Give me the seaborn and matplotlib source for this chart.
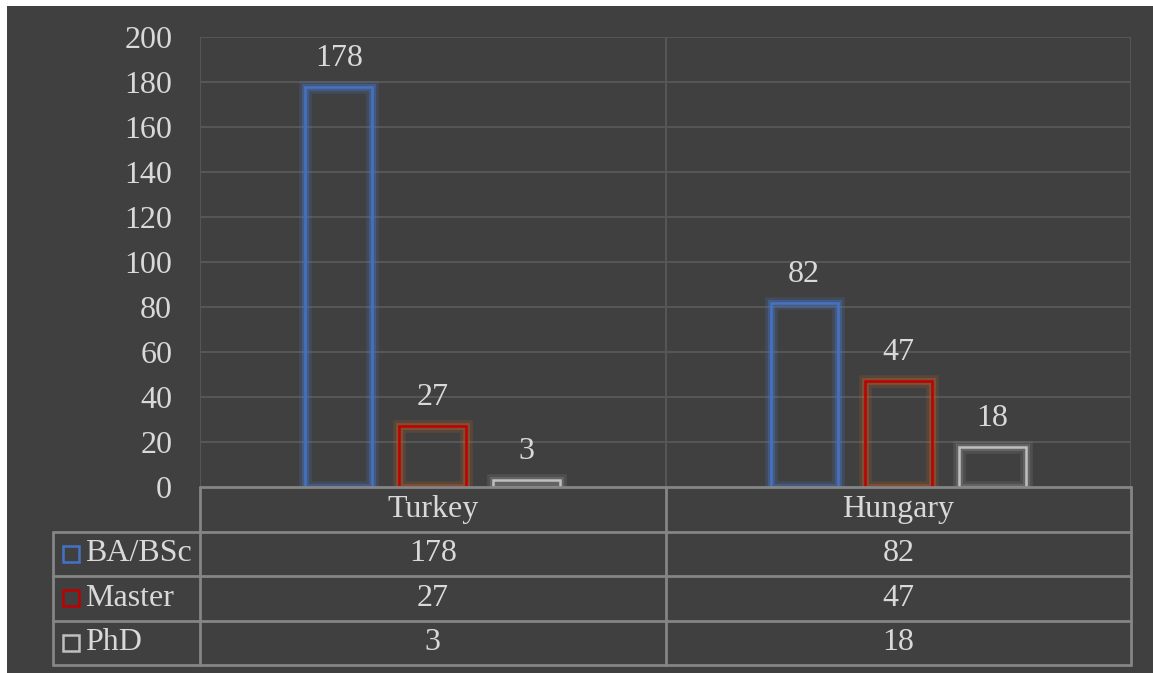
import pandas as pd
import matplotlib.pyplot as plt
import matplotlib.patheffects as pe
from matplotlib.patches import Rectangle
import seaborn as sns

sns.set_style("dark")
plt.rcParams['font.family'] = ['Liberation Serif', 'DejaVu Serif']

# Data
countries = ["Turkey", "Hungary"]
degrees = ["BA/BSc", "Master", "PhD"]
ba_bsc = [178, 82]
master = [27, 47]
phd = [3, 18]
y_ticks = [0, 20, 40, 60, 80, 100, 120, 140, 160, 180, 200]

edge_colors = {"BA/BSc": "#4472C4", "Master": "#C00000", "PhD": "#BFBFBF"}
glow_colors = {"BA/BSc": "#4A78C8", "Master": "#C0632A", "PhD": "#8C8C8C"}

df = pd.DataFrame({
    "Country": countries * 3,
    "Degree": [d for d in degrees for _ in countries],
    "Count": ba_bsc + master + phd,
})

bg = "#404040"
txt = "#D9D9D9"
grid_c = "#565656"
table_c = "#858585"
fs = 23

fig = plt.figure(figsize=(11.53, 6.73), dpi=100)
fig.patch.set_facecolor("white")
fig.add_artist(Rectangle((7 / 1153, 0), 1, 1 - 6 / 673, transform=fig.transFigure,
                         facecolor=bg, edgecolor="none", zorder=-10))

ax = fig.add_axes([200 / 1153, (673 - 487) / 673, 931 / 1153, 450 / 673])
ax.set_facecolor(bg)

sns.barplot(data=df, x="Country", y="Count", hue="Degree", hue_order=degrees,
            palette=edge_colors, fill=False, width=0.606, gap=0.287,
            linewidth=1.8, errorbar=None, legend=False, ax=ax, zorder=3)

for cont, deg in zip(ax.containers, degrees):
    for bar in cont:
        bar.set_edgecolor(edge_colors[deg])
        bar.set_facecolor("none")
        bar.set_path_effects([
            pe.Stroke(linewidth=9, foreground=glow_colors[deg], alpha=0.2),
            pe.Stroke(linewidth=5, foreground=glow_colors[deg], alpha=0.35),
            pe.Normal(),
        ])
    ax.bar_label(cont, padding=10, color=txt, fontsize=fs)

ax.set_ylim(0, 200)
ax.set_xlim(-0.5, 1.5)
ax.set_yticks(y_ticks)
ax.set_xticks([])
ax.tick_params(axis='y', length=0, pad=20, labelsize=fs, labelcolor=txt)
ax.set_xlabel("")
ax.set_ylabel("")
for s in ax.spines.values():
    s.set_visible(False)
ax.grid(False)
for t in y_ticks[1:]:
    ax.axhline(t, color=grid_c, lw=1.5, zorder=1)
for xv in [-0.5, 0.5, 1.5]:
    ax.axvline(xv, color=grid_c, lw=1.5, zorder=1)

# Data table below the plot
h = 44.5 / 450
left = -147 / 931
tr = ax.transAxes
kw = dict(color=table_c, lw=2, transform=tr, clip_on=False, zorder=4)
ax.plot([0, 1], [0, 0], **kw)
for i in range(1, 5):
    ax.plot([left, 1], [-i * h, -i * h], **kw)
ax.plot([left, left], [-h, -4 * h], **kw)
for xv in [0, 0.5, 1]:
    ax.plot([xv, xv], [0, -4 * h], **kw)

for j, c in enumerate(countries):
    ax.text((j + 0.5) / 2, -0.5 * h, c, transform=tr, ha="center", va="center",
            color=txt, fontsize=fs)

rows = [ba_bsc, master, phd]
for i, (deg, vals) in enumerate(zip(degrees, rows)):
    yc = -(i + 1.5) * h
    ax.plot([-129 / 931], [yc], marker="s", ms=12, mfc="none", mec=edge_colors[deg],
            mew=1.8, transform=tr, clip_on=False)
    ax.text(-115 / 931, yc, deg, transform=tr, ha="left", va="center",
            color=txt, fontsize=fs)
    for j, v in enumerate(vals):
        ax.text((j + 0.5) / 2, yc, str(v), transform=tr, ha="center", va="center",
                color=txt, fontsize=fs)

fig.savefig("out.png", dpi=100, facecolor=fig.get_facecolor())
